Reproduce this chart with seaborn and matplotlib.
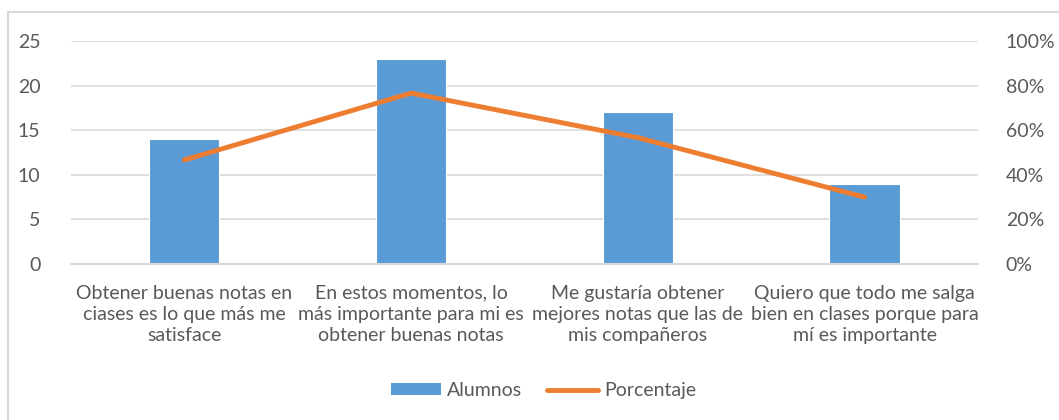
import matplotlib
matplotlib.use("Agg")
import matplotlib.pyplot as plt
import seaborn as sns
import pandas as pd
from matplotlib.patches import Patch, Rectangle
from matplotlib.lines import Line2D
from matplotlib.ticker import PercentFormatter

# data
categorias = [
    "Obtener buenas notas en\nciases es lo que más me\nsatisface",
    "En estos momentos, lo\nmás importante para mi es\nobtener buenas notas",
    "Me gustaría obtener\nmejores notas que las de\nmis compañeros",
    "Quiero que todo me salga\nbien en clases porque para\nmí es importante",
]
alumnos = [14, 23, 17, 9]
porcentaje = [46.7, 76.7, 56.7, 30.0]

BLUE = "#5B9BD5"
ORANGE = "#ED7D31"
TEXT = "#595959"
GRID = "#D9D9D9"
FS = 14

sns.set_style("white")
plt.rcParams["font.family"] = ["Lato", "DejaVu Sans"]

df = pd.DataFrame({"cat": categorias, "alumnos": alumnos, "pct": porcentaje})

fig = plt.figure(figsize=(10.59, 4.2), dpi=100)
ax = fig.add_axes([0.067, 0.3714, 0.8565, 0.5306])

sns.barplot(data=df, x="cat", y="alumnos", color=BLUE, saturation=1,
            width=0.31, edgecolor="white", linewidth=0.8, ax=ax, zorder=2)
ax.set_ylim(0, 25)
ax.set_yticks(range(0, 26, 5))
ax.set_xlim(-0.5, 3.5)
ax.grid(axis="y", color=GRID, linewidth=1.2, zorder=0)
ax.set_axisbelow(True)
for s in ["top", "right", "left"]:
    ax.spines[s].set_visible(False)
ax.spines["bottom"].set_color(GRID)
ax.spines["bottom"].set_linewidth(1.5)
ax.set_xlabel("")
ax.set_ylabel("")
ax.tick_params(axis="both", length=0, colors=TEXT, labelsize=FS)
ax.tick_params(axis="y", pad=22)
ax.tick_params(axis="x", pad=15)
for lbl in ax.get_xticklabels():
    lbl.set_linespacing(1.3)

ax2 = ax.twinx()
sns.lineplot(x=range(len(porcentaje)), y=porcentaje, color=ORANGE,
             linewidth=3.5, solid_capstyle="round", sort=False, ax=ax2)
ax2.set_ylim(0, 100)
ax2.set_yticks(range(0, 101, 20))
ax2.yaxis.set_major_formatter(PercentFormatter(decimals=0))
ax2.tick_params(axis="y", length=0, colors=TEXT, labelsize=FS, pad=20)
for s in ax2.spines.values():
    s.set_visible(False)
ax2.set_xlim(-0.5, 3.5)

handles = [Patch(facecolor=BLUE, edgecolor="none"),
           Line2D([0], [0], color=ORANGE, linewidth=3.5, solid_capstyle="round")]
fig.legend(handles, ["Alumnos", "Porcentaje"], loc="center",
           bbox_to_anchor=(0.513, 0.07), ncol=2, frameon=False,
           fontsize=FS, labelcolor=TEXT, handlelength=2.6,
           handletextpad=0.3, columnspacing=1.3, handleheight=0.6)

# chart frame
fig.patches.append(Rectangle((8 / 1059, -0.1), 1.2, 1 - 12 / 420 + 0.1,
                             transform=fig.transFigure, fill=False,
                             edgecolor=GRID, linewidth=1.5))

fig.savefig("out.png", dpi=100)
plt.close(fig)
